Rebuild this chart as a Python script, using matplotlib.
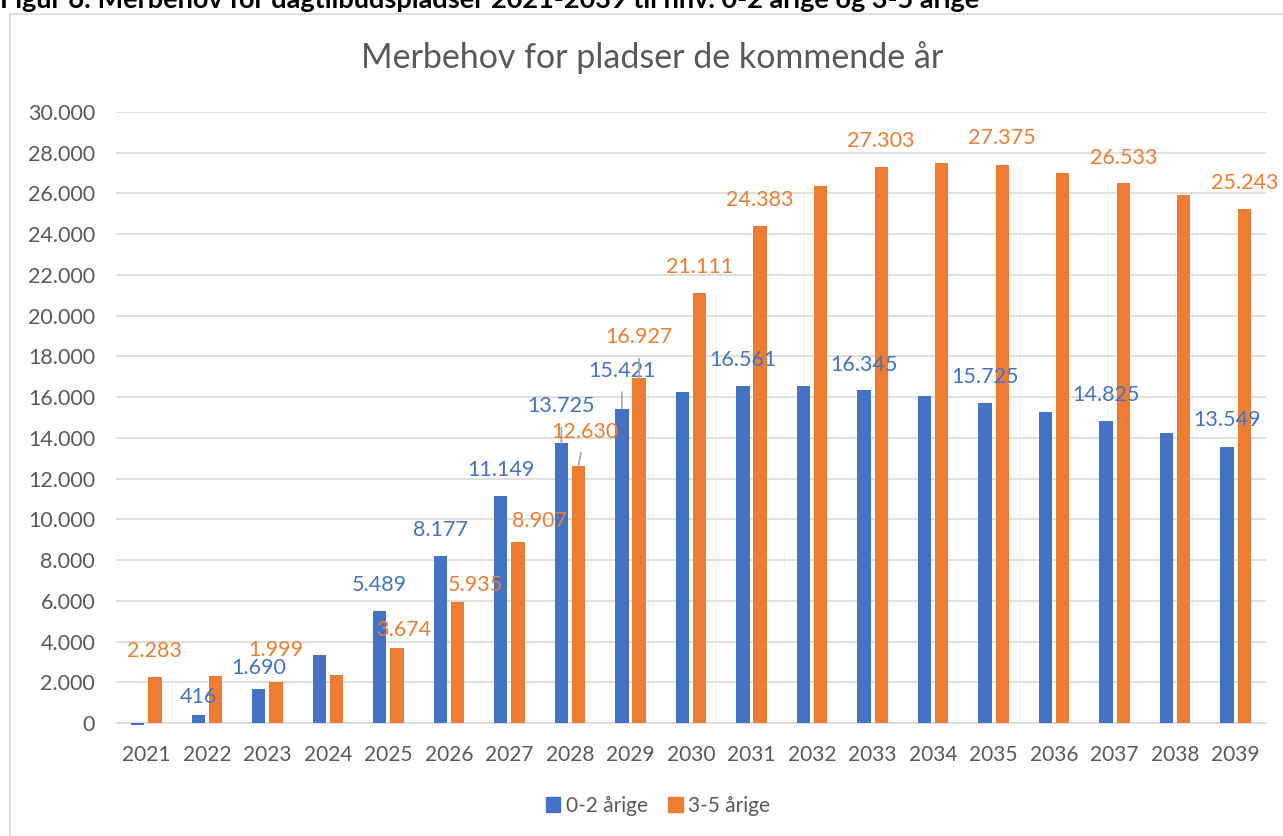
import matplotlib.pyplot as plt
from matplotlib.patches import Patch
from matplotlib.lines import Line2D
from matplotlib.ticker import FuncFormatter

plt.rcParams['font.family'] = ['Lato', 'DejaVu Sans']

years = [str(y) for y in range(2021, 2040)]
u02 = [-100, 416, 1690, 3360, 5489, 8177, 11149, 13725, 15421, 16260,
       16561, 16530, 16345, 16080, 15725, 15290, 14825, 14240, 13549]
u35 = [2283, 2320, 1999, 2380, 3674, 5935, 8907, 12630, 16927, 21111,
       24383, 26370, 27303, 27520, 27375, 27020, 26533, 25940, 25243]

# label offsets (pixels from bar top), None = no label shown
lab02 = [None, (0, 18), (0, 21), None, (0, 26), (0, 26), (0, 26), (0, 37), (0, 38), None,
         (0, 26), None, (0, 25), None, (0, 26), None, (0, 26), None, (0, 27)]
lab35 = [(0, 26), None, (0, 32), None, (7, 18), (18, 17), (21, 21), (6, 34), (0, 41), (0, 26),
         (0, 26), None, (0, 26), None, (0, 27), None, (0, 25), None, (0, 26)]
leader02 = [7, 8]
leader35 = [7, 8]

blue = '#4472C4'
orange = '#ED7D31'
grey = '#595959'

def fmt(v):
    return f'{v:,}'.replace(',', '.')

fig = plt.figure(figsize=(12.83, 8.36), dpi=100)
ax = fig.add_axes([116 / 1283, 1 - 723 / 836, 1150 / 1283, 611 / 836])

x = list(range(len(years)))
w = 0.22
off = 0.142
xb = [i - off for i in x]
xo = [i + off for i in x]
ax.bar(xb, u02, w, color=blue, clip_on=False, zorder=3)
ax.bar(xo, u35, w, color=orange, clip_on=False, zorder=3)

def put_labels(xs, vals, labs, leaders, col):
    for i, (xx, v, lb) in enumerate(zip(xs, vals, labs)):
        if lb is None:
            continue
        ap = None
        if i in leaders:
            ap = dict(arrowstyle='-', color='#A6A6A6', lw=1.2, shrinkA=6, shrinkB=0)
        ax.annotate(fmt(v), xy=(xx, v), xytext=lb, textcoords='offset pixels',
                    ha='center', va='center', fontsize=15.5, color=col,
                    arrowprops=ap, zorder=5)

put_labels(xb, u02, lab02, leader02, blue)
put_labels(xo, u35, lab35, leader35, orange)

ax.set_xlim(-0.5, len(years) - 0.5)
ax.set_ylim(0, 30000)
ax.set_yticks(range(0, 30001, 2000))
ax.yaxis.set_major_formatter(FuncFormatter(lambda v, p: fmt(int(v))))
ax.set_xticks(x)
ax.set_xticklabels(years)
ax.tick_params(axis='both', length=0, labelcolor=grey)
ax.tick_params(axis='y', pad=15, labelsize=15.5)
ax.tick_params(axis='x', pad=16, labelsize=15)
ax.grid(axis='y', color='#D9D9D9', lw=1.2, zorder=0)
for s in ['top', 'right', 'left']:
    ax.spines[s].set_visible(False)
ax.spines['bottom'].set_color('#D9D9D9')
ax.spines['bottom'].set_linewidth(1.2)
ax.set_axisbelow(True)

fig.text(652 / 1283, 1 - 58 / 836, 'Merbehov for pladser de kommende år',
         ha='center', va='center', fontsize=24.5, color=grey)
fig.text(0, 1 - 8 / 836, 'Figur 6: Merbehov for dagtilbudspladser 2021-2039 til hhv. 0-2 årige og 3-5 årige',
         ha='left', va='baseline', fontsize=19.5, fontweight='bold', color='black')

# chart frame
fig.add_artist(Line2D([10 / 1283, 10 / 1283], [0, 1 - 14 / 836], transform=fig.transFigure,
                      color='#D9D9D9', lw=1.2))
fig.add_artist(Line2D([10 / 1283, 1], [1 - 14 / 836, 1 - 14 / 836], transform=fig.transFigure,
                      color='#D9D9D9', lw=1.2))

handles = [Patch(color=blue, label='0-2 årige'), Patch(color=orange, label='3-5 årige')]
fig.legend(handles=handles, loc='center', bbox_to_anchor=(658 / 1283, 1 - 806 / 836), ncol=2,
           frameon=False, fontsize=15, labelcolor=grey, handlelength=0.7, handleheight=0.7,
           handletextpad=0.25, columnspacing=1.0)

fig.savefig('out.png', dpi=100)
